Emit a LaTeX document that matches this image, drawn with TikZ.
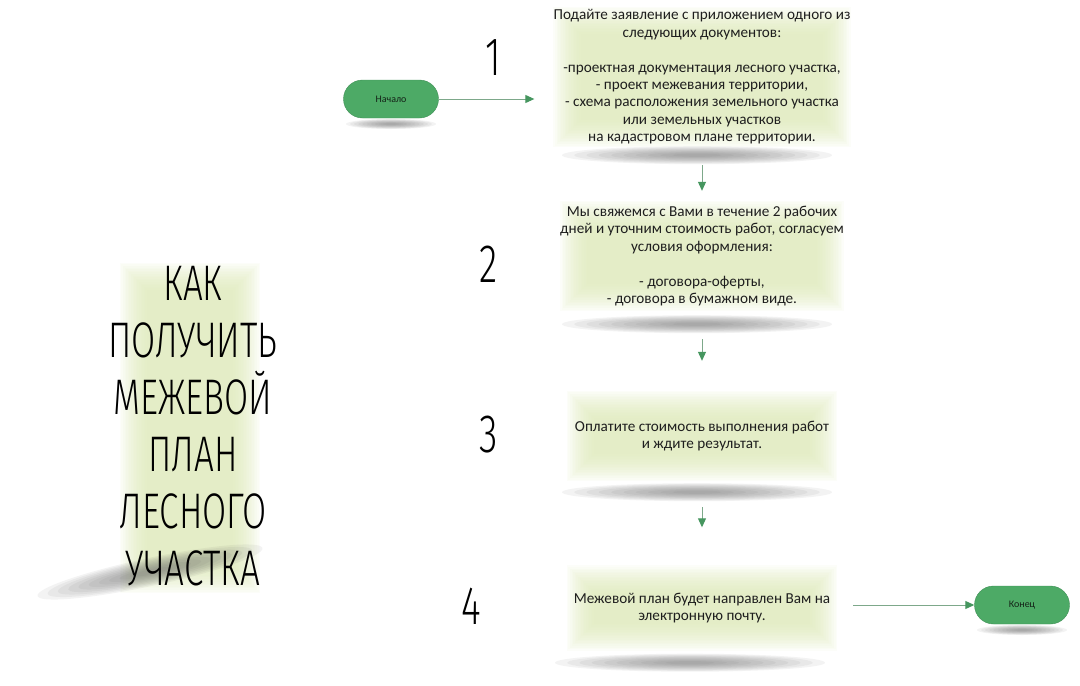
\documentclass[tikz,border=0pt]{standalone}
\usepackage{fontspec}
\setmainfont{Carlito}
\newfontfamily\thinfont[FakeStretch=0.7]{Fira Sans Light}
\usetikzlibrary{arrows.meta,calc,backgrounds}
\definecolor{glowc}{RGB}{220,232,182}
\definecolor{pillc}{RGB}{77,170,102}
\definecolor{linec}{RGB}{125,168,138}
\definecolor{headc}{RGB}{70,150,95}
\definecolor{shadc}{RGB}{100,100,100}
\definecolor{txtc}{RGB}{30,30,30}
\newcommand\glow[1]{%
  \foreach \i in {0,...,17}
    \fill[glowc,fill opacity=0.08] ($(#1.south west)+(\i*1.6,-\i*1.6)$) rectangle ($(#1.north east)+(-\i*1.6,\i*1.6)$);}
\newcommand\streak[3]{%
  \foreach \i in {0,...,9}
    \fill[shadc,fill opacity=0.08] #1 ellipse ({#2-\i*#2/11} and {#3-\i*#3/11});}
\begin{document}
\begin{tikzpicture}[x=1pt,y=-1pt,
  stepbox/.style={minimum width=270pt,align=center,inner sep=0pt,text=txtc,font=\fontsize{15.2}{17.4}\selectfont},
  pill/.style={rectangle,rounded corners=19pt,minimum width=95pt,minimum height=38pt,fill=pillc,draw=pillc!85!black,text=txtc!60!pillc!40!black,font=\fontsize{10}{12}\selectfont},
  num/.style={font=\thinfont\fontsize{54}{54}\selectfont,text=black,inner sep=0pt},
  flow/.style={draw=linec,line width=1pt,-{Triangle[length=9pt,width=8pt,fill=headc,color=headc]}}]
\useasboundingbox (0,0) rectangle (1080,686);

\node[stepbox,minimum height=140pt] (box1) at (702,77) {Подайте заявление с приложением одного из\\следующих документов:\\[17.4pt]-проектная документация лесного участка,\\- проект межевания территории,\\- схема расположения земельного участка\\или земельных участков\\на кадастровом плане территории.};
\node[stepbox,minimum height=110pt] (box2) at (702,256) {Мы свяжемся с Вами в течение 2 рабочих\\дней и уточним стоимость работ, согласуем\\условия оформления:\\[17.4pt]- договора-оферты,\\- договора в бумажном виде.};
\node[stepbox,minimum height=90pt] (box3) at (702,436) {Оплатите стоимость выполнения работ\\и ждите результат.};
\node[stepbox,minimum height=85pt] (box4) at (702,608) {Межевой план будет направлен Вам на\\электронную почту.};

\node[minimum width=140pt,minimum height=330pt] (tbox) at (190,428) {};
\node[align=center,inner sep=0pt,font=\thinfont\fontsize{50}{57}\selectfont] (ttl) at (193,426) {КАК\\ПОЛУЧИТЬ\\МЕЖЕВОЙ\\ПЛАН\\ЛЕСНОГО\\УЧАСТКА};

\node[num] (n1) at (493,58) {1};
\node[num] (n2) at (489,264) {2};
\node[num] (n3) at (489,435) {3};
\node[num] (n4) at (471,606) {4};

\begin{pgfonlayer}{background}
\glow{box1} \glow{box2} \glow{box3} \glow{box4} \glow{tbox}
\streak{($(box1.south)+(-5,8)$)}{135}{9}
\streak{($(box2.south)+(-5,13)$)}{135}{9}
\streak{($(box3.south)+(-5,11)$)}{135}{9}
\streak{($(box4.south)+(-12,12)$)}{135}{9}
\begin{scope}[rotate around={12:(150,572)}]
\streak{(150,572)}{115}{14}
\end{scope}
\streak{(391,124)}{45}{5}
\streak{(1022,630)}{45}{5}
\end{pgfonlayer}

\node[pill] (start) at (391,99) {Начало};
\node[pill] (end) at (1022,605) {Конец};

\draw[flow,shorten >=19pt] (start) -- (start -| box1.west);
\draw[flow,shorten <=18pt,shorten >=10pt] (box1.south) -- (box2.north);
\draw[flow,shorten <=28pt,shorten >=30pt] (box2.south) -- (box3.north);
\draw[flow,shorten <=26pt,shorten >=38pt] (box3.south) -- (box4.north);
\draw[flow,shorten <=16pt] (box4.east |- end) -- (end);

\end{tikzpicture}
\end{document}
